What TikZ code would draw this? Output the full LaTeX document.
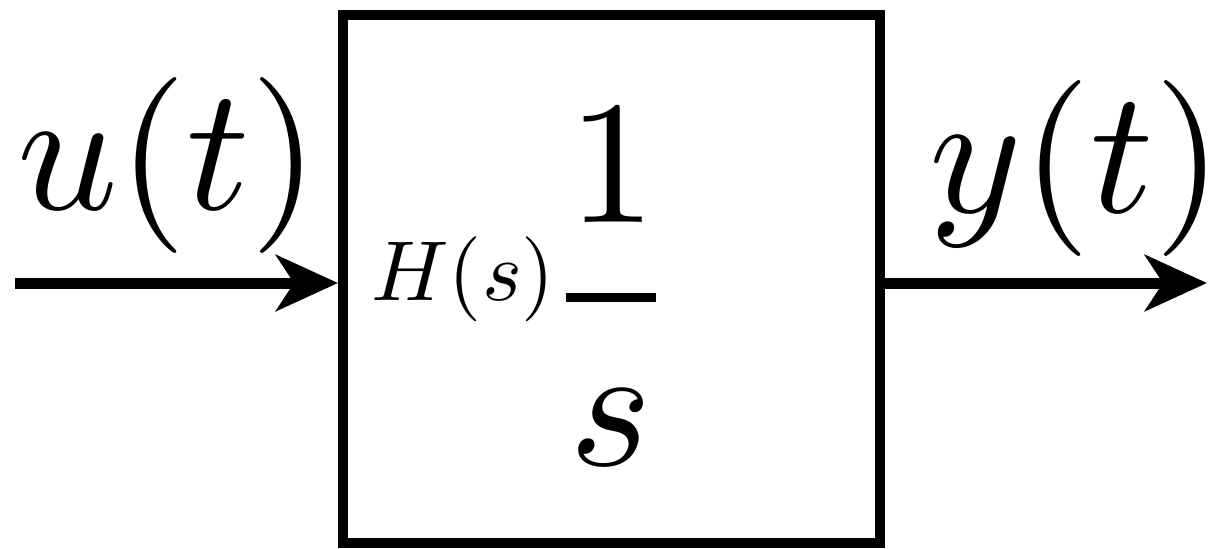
\documentclass[tikz,border=0pt]{standalone}
\usepackage{graphicx}
\usetikzlibrary{arrows.meta}
\newcommand{\mybigmath}[1]{\scalebox{8.8}{\fontsize{10}{12}\selectfont$#1$}}
\newcommand{\mysmallmath}[1]{\scalebox{4.25}{\fontsize{10}{12}\selectfont$#1$}}
\tikzset{
  px/.style={x=0.5pt,y=-0.5pt},
  blk/.style={draw,line width=5pt,rectangle,minimum width=268.5pt,minimum height=264pt,inner sep=0pt},
  sig/.style={line width=5.5pt,-{Stealth[length=31pt,width=28pt,inset=9pt]}},
  lbl/.style={inner sep=0pt},
}
\begin{document}
\begin{tikzpicture}[px]
\useasboundingbox (0,0) rectangle (1220,548);
\node[blk] (box) at (611.5,279) {};
\coordinate (in) at (15,283);
\coordinate (out) at (1207,283);
\draw[sig] (in) -- (in -| box.west);
\draw[sig] (out -| box.east) -- (out);
\node[lbl,anchor=base] (u) at (168,209) {\mybigmath{u(t)}};
\node[lbl,anchor=base west] (y) at (929,212) {\mybigmath{y(t)}};
\node[lbl,anchor=base west] (H) at (371,300) {\mysmallmath{H(s)}};
\node[lbl,anchor=base] (num) at (612,222) {\mybigmath{1}};
\node[lbl,anchor=base] (den) at (611,465) {\mybigmath{s}};
\coordinate (barl) at (566,297);
\coordinate (barr) at (656,297);
\draw[line width=4.5pt] (barl) -- (barr);
\end{tikzpicture}
\end{document}
